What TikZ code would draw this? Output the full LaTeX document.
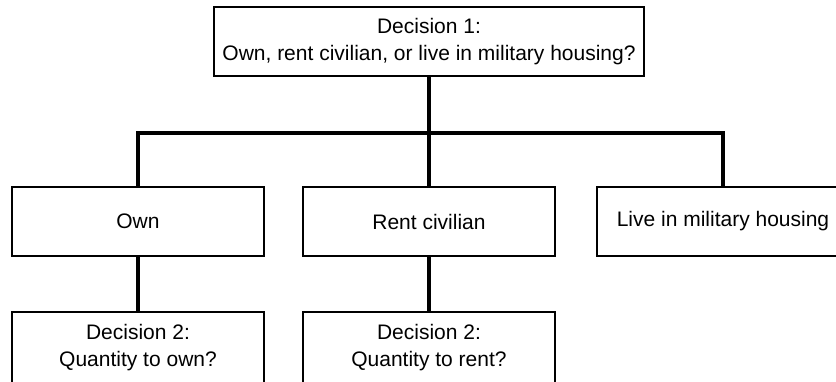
\documentclass[tikz,border=0pt]{standalone}
\usepackage{fontspec}
\setmainfont{Liberation Sans}
\begin{document}
\begin{tikzpicture}[x=0.5pt, y=-0.5pt,
    box/.style={draw, line width=0.7pt, minimum width=126pt, minimum height=34.5pt,
      align=center, inner sep=0pt, font=\fontsize{10.5}{13.5}\selectfont},
    link/.style={line width=2pt}]
    \useasboundingbox (0,0) rectangle (836,381);
    \node[box, minimum width=215pt] (top) at (429,41.5) {Decision 1:\\Own, rent civilian, or live in military housing?};
    \node[box] (own) at (138,221.5) {Own};
    \node[box] (rent) at (429,221.5) {Rent civilian};
    \node[box] (live) at (723,221.5) {Live in military housing};
    \node[box, minimum height=36pt] (qown) at (138,348) {Decision 2:\\Quantity to own?};
    \node[box, minimum height=36pt] (qrent) at (429,348) {Decision 2:\\Quantity to rent?};
    \coordinate (bar) at (429,133);
    \draw[link] (top) -- (rent);
    \draw[link] (own) -- (own |- bar) -- (live |- bar) -- (live);
    \draw[link] (own) -- (qown);
    \draw[link] (rent) -- (qrent);
  \end{tikzpicture}
\end{document}
